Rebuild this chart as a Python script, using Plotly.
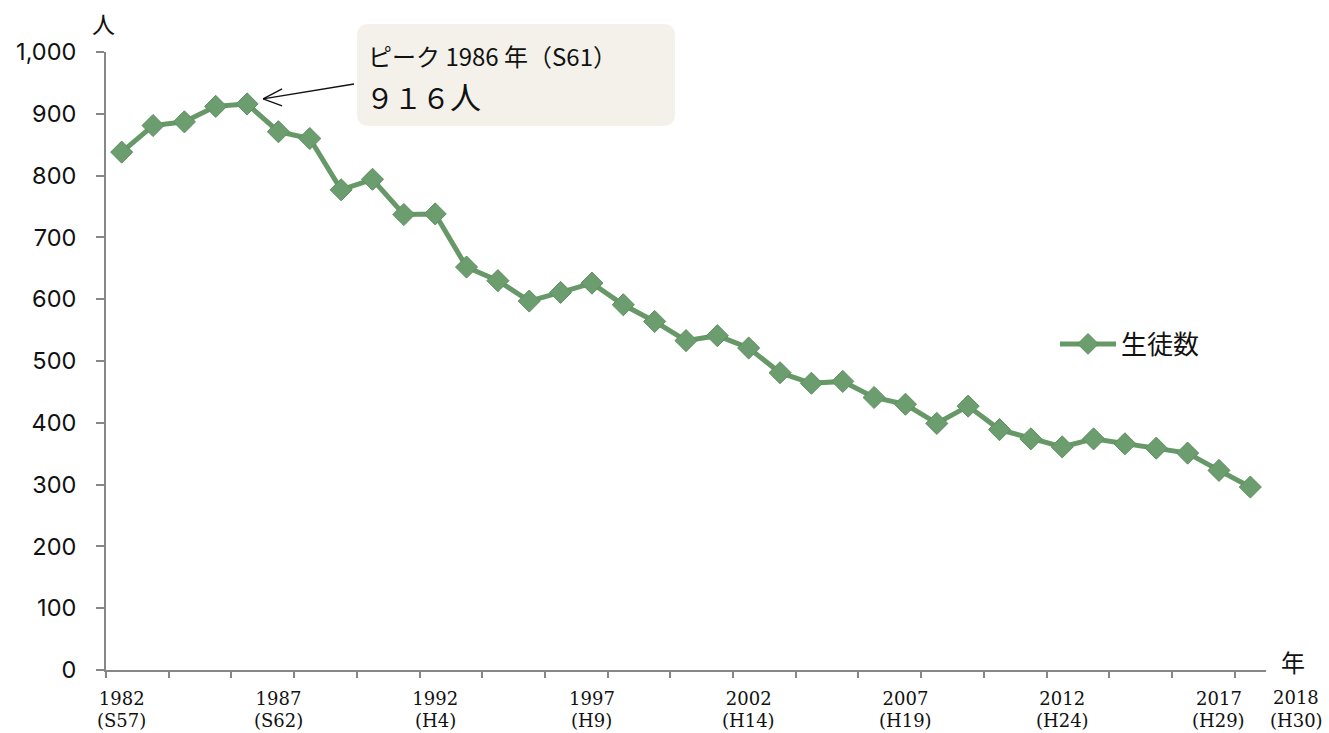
import plotly.graph_objects as go

# 生徒数の推移（1982〜2018年）
years = list(range(1982, 2019))
students = [838, 881, 887, 912, 916, 871, 860, 777, 794, 737,
            738, 652, 630, 597, 611, 626, 591, 564, 533, 541,
            521, 481, 464, 467, 441, 430, 399, 427, 389, 374,
            361, 374, 366, 359, 351, 323, 296]

label_years = [1982, 1987, 1992, 1997, 2002, 2007, 2012, 2017]
label_eras = ["S57", "S62", "H4", "H9", "H14", "H19", "H24", "H29"]
last_year, last_era = 2018, "H30"

peak_idx = students.index(max(students))
peak_year, peak_val = years[peak_idx], students[peak_idx]
peak_era = "S61"

# figure geometry (pixels)
W, H = 1329, 733
ML, MR, MT, MB = 106, 63, 52, 63
PW, PH = W - ML - MR, H - MT - MB
X0, X1 = years[0] - 0.5, years[-1] + 0.5
Y0, Y1 = 0, 1000


def data_px(x, y):
    return ML + (x - X0) / (X1 - X0) * PW, MT + (1 - (y - Y0) / (Y1 - Y0)) * PH


def paper(px, py):
    return (px - ML) / PW, (H - MB - py) / PH


GREEN_LINE = "#679868"
GREEN_FILL = "#6C9D6E"
AXIS = "#878787"
SERIF = "DejaVu Serif, Liberation Serif, serif"
SANS = "Inter, Liberation Sans, sans-serif"
CJK = "Noto Sans CJK JP, sans-serif"
INK = "#111"
XFONT = dict(family=SERIF, size=18, color=INK)

fig = go.Figure()
fig.add_trace(go.Scatter(
    x=years, y=students, name="生徒数", mode="lines+markers",
    line=dict(color=GREEN_LINE, width=5),
    marker=dict(symbol="diamond", size=17, color=GREEN_FILL,
                line=dict(color="#5F9062", width=1)),
))

fig.update_layout(
    width=W, height=H,
    margin=dict(l=ML, r=MR, t=MT, b=MB),
    paper_bgcolor="white", plot_bgcolor="white",
    showlegend=True,
    legend=dict(x=paper(1055, 0)[0], y=paper(0, 344)[1], xanchor="left", yanchor="middle",
                font=dict(family=CJK, size=26, color=INK),
                itemwidth=56, bgcolor="rgba(0,0,0,0)"),
    xaxis=dict(
        range=[X0, X1], showgrid=False, zeroline=False, automargin=False,
        showline=True, linecolor=AXIS, linewidth=2,
        tickmode="array", tickvals=label_years,
        ticktext=[str(y) for y in label_years],
        ticks="outside", ticklen=0, ticklabelstandoff=11,
        tickfont=XFONT,
        minor=dict(tick0=X0, dtick=2, ticks="outside", ticklen=6,
                   tickcolor=AXIS, tickwidth=2),
    ),
    yaxis=dict(
        range=[Y0, Y1], dtick=100, tickformat=",", showgrid=False, zeroline=False,
        automargin=False,
        showline=True, linecolor=AXIS, linewidth=2,
        ticks="outside", ticklen=8, tickcolor=AXIS, tickwidth=2,
        ticklabelstandoff=15,
        tickfont=dict(family=SANS, size=23.5, color=INK),
    ),
)

# era names under each labelled year
for y, e in zip(label_years, label_eras):
    fig.add_annotation(x=y, y=paper(0, 720)[1], xref="x", yref="paper",
                       text=f"({e})", showarrow=False, xanchor="center", yanchor="middle",
                       font=XFONT)

# last year's label sits to the right of the axis end
lx, _ = data_px(last_year, 0)
for txt, py in [(str(last_year), 697), (f"({last_era})", 720)]:
    fig.add_annotation(x=paper(lx + 46, 0)[0], y=paper(0, py)[1], xref="paper", yref="paper",
                       text=txt, showarrow=False, xanchor="center", yanchor="middle",
                       font=XFONT)

# unit labels
fig.add_annotation(x=paper(103, 0)[0], y=paper(0, 23)[1], xref="paper", yref="paper",
                   text="人", showarrow=False, xanchor="center", yanchor="middle",
                   font=dict(family=CJK, size=23, color=INK))
fig.add_annotation(x=paper(1293, 0)[0], y=paper(0, 661)[1], xref="paper", yref="paper",
                   text="年", showarrow=False, xanchor="center", yanchor="middle",
                   font=dict(family=CJK, size=24, color=INK))

# callout box with rounded corners
bx0, by0, bx1, by1, r = 357, 24, 675, 126, 12
rx, ry = r / PW, r / PH
(ax0, ay1), (ax1, ay0) = paper(bx0, by0), paper(bx1, by1)
path = (f"M {ax0+rx},{ay1} L {ax1-rx},{ay1} Q {ax1},{ay1} {ax1},{ay1-ry} "
        f"L {ax1},{ay0+ry} Q {ax1},{ay0} {ax1-rx},{ay0} "
        f"L {ax0+rx},{ay0} Q {ax0},{ay0} {ax0},{ay0+ry} "
        f"L {ax0},{ay1-ry} Q {ax0},{ay1} {ax0+rx},{ay1} Z")
fig.add_shape(type="path", path=path, xref="paper", yref="paper",
              fillcolor="#F3F1EA", line=dict(width=0), layer="above")

full = str.maketrans("0123456789", "０１２３４５６７８９")
fig.add_annotation(x=paper(366, 0)[0], y=paper(0, 55)[1], xref="paper", yref="paper",
                   text=f"ピーク {peak_year} 年（{peak_era}）", showarrow=False,
                   xanchor="left", yanchor="middle",
                   font=dict(family=CJK, size=24, color=INK))
fig.add_annotation(x=paper(364, 0)[0], y=paper(0, 95)[1], xref="paper", yref="paper",
                   text=f"{str(peak_val).translate(full)}<span style='font-size:31px'>人</span>",
                   showarrow=False, xanchor="left", yanchor="middle",
                   font=dict(family=CJK, size=28, color=INK))

# open arrow pointing at the peak
px_, py_ = data_px(peak_year, peak_val)
tip = (px_ + 16, py_ - 5)
tail = (354, 84)
fig.add_shape(type="line", xref="paper", yref="paper",
              x0=paper(*tail)[0], y0=paper(*tail)[1], x1=paper(*tip)[0], y1=paper(*tip)[1],
              line=dict(color=INK, width=1.3), layer="above")
for dx, dy in [(19, -10), (19, 7)]:
    end = (tip[0] + dx, tip[1] + dy)
    fig.add_shape(type="line", xref="paper", yref="paper",
                  x0=paper(*tip)[0], y0=paper(*tip)[1], x1=paper(*end)[0], y1=paper(*end)[1],
                  line=dict(color=INK, width=1.3), layer="above")

fig.write_html("out.html")
